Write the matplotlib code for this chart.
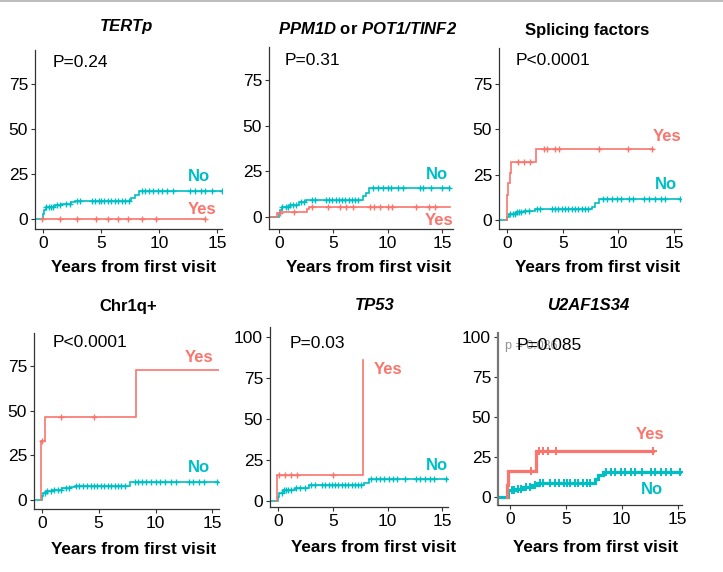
import matplotlib
matplotlib.use('Agg')
import matplotlib.pyplot as plt
from matplotlib.lines import Line2D
import numpy as np

plt.rcParams['font.family'] = ['Liberation Sans', 'DejaVu Sans']
plt.rcParams['mathtext.fontset'] = 'custom'
plt.rcParams['mathtext.rm'] = 'Liberation Sans'
plt.rcParams['mathtext.bf'] = 'Liberation Sans:bold'
plt.rcParams['mathtext.it'] = 'Liberation Sans:italic'
plt.rcParams['mathtext.bfit'] = 'Liberation Sans:italic:bold'

RED = '#F8766D'
CYAN = '#00BFC4'
W, H = 723, 572

# ---- data (years, cumulative incidence %) ----
titles = ['TERTp', 'PPM1D or POT1/TINF2', 'Splicing factors', 'Chr1q+', 'TP53', 'U2AF1S34']
pvalues = ['P=0.24', 'P=0.31', 'P<0.0001', 'P<0.0001', 'P=0.03', 'P=0.085']

tertp_no_t = [-0.7, 0.0, 0.1, 0.3, 1.0, 1.6, 2.4, 2.8, 7.6, 7.9, 8.3, 15.45]
tertp_no_y = [0, 3, 5, 6.5, 7.5, 8.5, 9.5, 10, 11.5, 13.5, 15.5, 15.5]
tertp_no_c = [0.3, 0.5, 0.7, 0.9, 1.2, 1.5, 2.0, 2.3, 2.9, 3.2, 4.2, 4.5, 4.8, 5.0, 5.3, 5.6, 5.9,
              6.2, 6.5, 6.8, 7.1, 7.4, 8.5, 8.8, 9.1, 9.5, 9.9, 10.3, 10.7, 11.2, 12.7, 13.1,
              13.6, 14.0, 14.6, 15.4]
tertp_yes_t = [-0.1, 14.0]
tertp_yes_y = [0, 0]
tertp_yes_c = [-0.05, 1.45, 2.95, 4.55, 5.6, 6.45, 7.3, 8.5, 9.7, 14.0]

ppm_no_t = [-0.9, 0.0, 0.1, 0.3, 1.0, 1.8, 2.5, 2.8, 7.7, 8.0, 8.3, 15.7]
ppm_no_y = [0, 2, 4, 5.5, 6.7, 8, 9, 9.5, 11.3, 13.1, 15.6, 15.6]
ppm_no_c = [0.3, 0.6, 0.8, 1.0, 1.3, 1.6, 2.0, 2.3, 3.0, 3.3, 4.3, 4.6, 4.9, 5.2, 5.5, 5.8, 6.1,
            6.4, 6.7, 7.0, 7.3, 8.6, 9.1, 9.6, 10.0, 10.3, 10.9, 11.4, 13.0, 13.2, 14.0, 15.0, 15.6]
ppm_yes_t = [-0.9, -0.2, 0.1, 2.6, 2.8, 15.7]
ppm_yes_y = [0, 2, 2.6, 4.5, 5.7, 5.7]
ppm_yes_c = [0.05, 1.4, 3.0, 4.5, 5.6, 6.2, 6.8, 8.4, 8.7, 9.3, 10.0, 10.4, 12.6, 13.8, 14.3]

spl_no_t = [-0.7, 0.0, 0.2, 0.8, 1.5, 2.5, 7.6, 7.9, 8.3, 15.6]
spl_no_y = [0, 1.8, 3.5, 4.2, 5, 5.9, 7.4, 9.2, 11.4, 11.4]
spl_no_c = [0.3, 0.5, 0.7, 0.9, 1.1, 1.3, 1.6, 2.0, 2.7, 3.0, 4.0, 4.3, 4.6, 4.9, 5.2, 5.5, 5.8,
            6.1, 6.4, 6.7, 7.0, 7.3, 8.6, 9.0, 9.4, 9.9, 10.2, 11.0, 11.3, 12.3, 12.8, 13.3, 13.8,
            14.2, 15.5]
spl_yes_t = [-0.15, 0.0, 0.1, 0.25, 0.35, 2.6, 13.1]
spl_yes_y = [0, 13.8, 20.2, 26, 31.8, 39.2, 39.2]
spl_yes_c = [1.0, 1.55, 2.1, 3.3, 3.6, 4.3, 4.7, 8.3, 10.9, 13.0]

chr_no_t = [-0.7, 0.0, 0.15, 0.4, 0.9, 1.8, 2.6, 2.9, 7.8, 15.6]
chr_no_y = [0, 2.2, 4.1, 5.0, 5.6, 6.5, 7.5, 8.0, 9.8, 9.8]
chr_no_c = [0.3, 0.5, 0.8, 1.1, 1.4, 1.7, 2.1, 2.4, 3.0, 3.3, 3.6, 4.0, 4.3, 4.6, 4.9, 5.2, 5.5,
            5.8, 6.1, 6.4, 6.7, 7.0, 7.3, 8.2, 8.5, 8.8, 9.2, 9.6, 10.0, 10.4, 10.8, 11.4,
            11.8, 12.9, 13.3, 13.8, 14.3, 15.4]
chr_yes_t = [-0.1, -0.05, 0.25, 8.3, 15.6]
chr_yes_y = [0, 33.3, 46.6, 72.8, 72.8]
chr_yes_c = [0.0, 1.7, 4.6]

tp_no_t = [-0.75, 0.0, 0.1, 0.4, 1.5, 2.8, 7.8, 8.3, 15.5]
tp_no_y = [0, 2.5, 4.7, 6.7, 7.7, 9.7, 11, 13.2, 13.2]
tp_no_c = [0.3, 0.5, 0.7, 0.9, 1.2, 1.6, 2.0, 2.4, 3.0, 3.4, 4.0, 4.3, 4.6, 4.9, 5.2, 5.5, 5.8,
           6.1, 6.4, 6.7, 7.0, 7.3, 7.6, 8.5, 8.9, 9.3, 9.7, 10.1, 10.5, 10.9, 11.6, 12.6,
           13.0, 13.4, 13.9, 14.2, 15.3]
tp_yes_t = [-0.2, -0.1, 7.77]
tp_yes_y = [0, 16, 86]
tp_yes_c = [0.05, 0.6, 1.15, 1.7, 5.0]

u2_no_t = [-1.0, -0.15, 0.5, 1.2, 2.0, 2.5, 7.6, 7.9, 8.3, 15.4]
u2_no_y = [0, 4.5, 5.5, 6.5, 8.0, 9.0, 11.6, 13.7, 16.1, 16.1]
u2_no_c = [0.2, 0.4, 0.7, 1.0, 1.4, 1.8, 2.2, 2.7, 3.0, 3.6, 4.0, 4.4, 4.8, 5.1, 5.4, 5.8, 6.1,
           6.5, 6.9, 7.2, 8.6, 9.0, 9.4, 9.9, 10.3, 10.8, 11.2, 11.8, 12.6, 13.0, 13.5, 14.0,
           14.4, 15.2]
u2_yes_t = [-0.3, -0.25, -0.15, 2.3, 12.8]
u2_yes_y = [0, 7.5, 16.7, 29.2, 29.2]
u2_yes_c = [1.9, 2.6, 3.0, 3.4, 4.1, 12.8]

series = [
    (tertp_no_t, tertp_no_y, tertp_no_c, tertp_yes_t, tertp_yes_y, tertp_yes_c),
    (ppm_no_t, ppm_no_y, ppm_no_c, ppm_yes_t, ppm_yes_y, ppm_yes_c),
    (spl_no_t, spl_no_y, spl_no_c, spl_yes_t, spl_yes_y, spl_yes_c),
    (chr_no_t, chr_no_y, chr_no_c, chr_yes_t, chr_yes_y, chr_yes_c),
    (tp_no_t, tp_no_y, tp_no_c, tp_yes_t, tp_yes_y, tp_yes_c),
    (u2_no_t, u2_no_y, u2_no_c, u2_yes_t, u2_yes_y, u2_yes_c),
]

# ---- layout (pixels) ----
boxes = [(35, 50, 222, 229), (269, 47, 453, 229), (499, 48, 681, 229),
         (34, 333, 219, 509), (270, 327, 448, 507), (498, 333, 682, 505)]
xlims = [(-0.69, 15.43), (-0.92, 16.0), (-0.72, 15.63),
         (-0.68, 15.58), (-0.76, 15.52), (-1.07, 15.4)]
ylims = [(-5.6, 93.9), (-6.6, 93.0), (-5.0, 94.9),
         (-5.1, 93.6), (-3.65, 105.9), (-4.8, 102.7)]
yticks = [[0, 25, 50, 75]] * 4 + [[0, 25, 50, 75, 100]] * 2
title_pos = [(126, 27), (368, 29), (587, 30), (128, 307), (375, 306), (588, 306)]
title_italic = [True, None, False, False, True, True]
xlabel_pos = [(134, 267), (369, 267), (598, 267), (134, 549), (374, 548), (596, 547)]
p_pos = [(0.8, 87), (0.55, 85.4), (0.75, 87.9), (0.97, 88), (1.0, 96), (0.6, 94.7)]
no_lab = [(13.4, 23.7), (14.5, 23.3), (14.3, 19.3), (13.8, 18.2), (14.5, 21.5), (12.7, 4.9)]
yes_lab = [(13.7, 5.4), (14.7, -1.7), (14.4, 46.3), (13.8, 80), (10.06, 80.3), (12.5, 39.2)]


def step_val(t, y, x):
    i = np.searchsorted(t, x, side='right') - 1
    return np.asarray(y)[np.clip(i, 0, len(y) - 1)]


fig = plt.figure(figsize=(W / 100, H / 100), dpi=100)
fig.add_artist(Line2D([0, 1], [1 - 1 / H, 1 - 1 / H], color='#b0b0b0', lw=1.2))

for k in range(6):
    l, t, r, b = boxes[k]
    ax = fig.add_axes([l / W, 1 - b / H, (r - l) / W, (b - t) / H])
    lw = 2.3 if k == 5 else 1.2
    nt, ny, nc, yt, yy, yc = series[k]
    for tt, vv, cc, col in [(nt, ny, nc, CYAN), (yt, yy, yc, RED)]:
        ax.plot(tt, vv, drawstyle='steps-post', color=col, lw=lw, solid_joinstyle='miter')
        ax.plot(cc, step_val(tt, vv, cc), ls='none', marker='+', color=col,
                ms=5 if k < 5 else 6, mew=1.0 if k < 5 else 1.4)
    ax.set_xlim(*xlims[k])
    ax.set_ylim(*ylims[k])
    ax.set_xticks([0, 5, 10, 15])
    ax.set_yticks(yticks[k])
    ax.tick_params(labelsize=12.5, length=3, width=0.8, colors='#333333', labelcolor='black', pad=2)
    for s in ['top', 'right']:
        ax.spines[s].set_visible(False)
    for s in ['left', 'bottom']:
        ax.spines[s].set_color('#333333')
        ax.spines[s].set_linewidth(0.9)
    if k == 5:
        ax.spines['left'].set_color('#777777')
        ax.spines['left'].set_linewidth(1.6)
        ax.text(-0.4, p_pos[k][1], 'p = 0.086', fontsize=9, color='#888888',
                ha='left', va='center', alpha=0.9)
    ax.text(p_pos[k][0], p_pos[k][1], pvalues[k], fontsize=12.5, ha='left', va='center')
    ax.text(*no_lab[k], 'No', color=CYAN, fontsize=12, fontweight='bold', ha='center', va='center')
    ax.text(*yes_lab[k], 'Yes', color=RED, fontsize=12, fontweight='bold', ha='center', va='center')

    tx, ty = title_pos[k]
    if title_italic[k] is None:
        fig.text(tx / W, 1 - ty / H, r'$\mathbfit{PPM1D}$ or $\mathbfit{POT1/TINF2}$',
                 ha='center', va='center', fontsize=12, fontweight='bold')
    else:
        fig.text(tx / W, 1 - ty / H, titles[k], ha='center', va='center', fontsize=12,
                 fontweight='bold', style='italic' if title_italic[k] else 'normal')
    lx, ly = xlabel_pos[k]
    fig.text(lx / W, 1 - ly / H, 'Years from first visit', ha='center', va='center',
             fontsize=12.3, fontweight='bold')

fig.savefig('out.png', dpi=100)
